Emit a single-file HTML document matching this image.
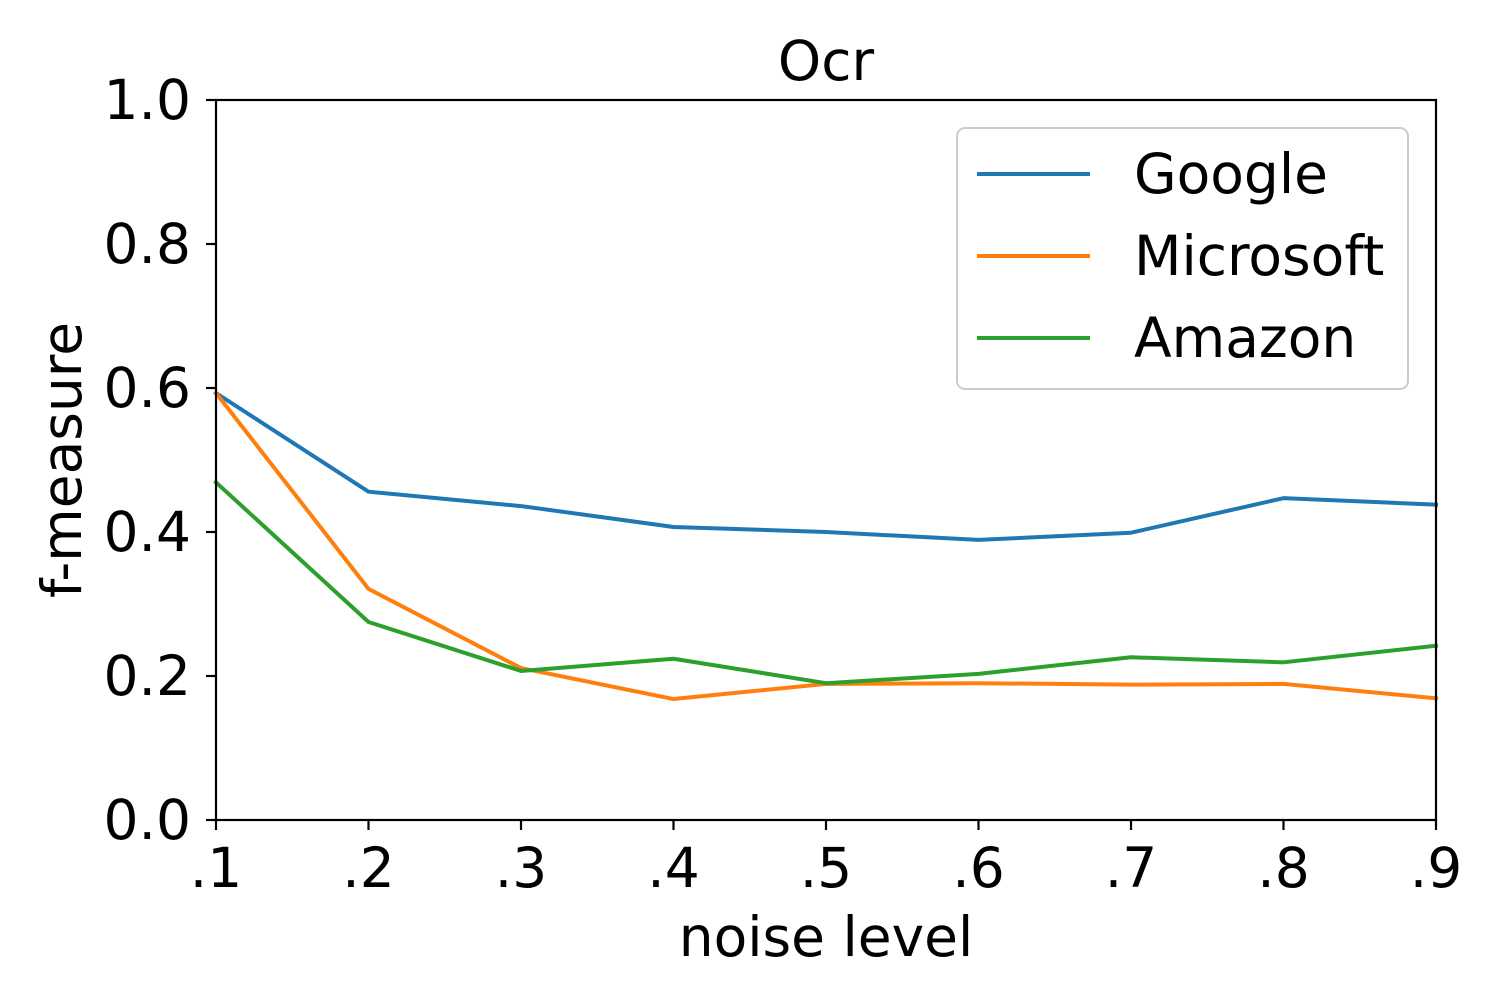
<!DOCTYPE html>
<html><head><meta charset="utf-8"><style>
html,body{margin:0;padding:0;background:#fff;}
svg{display:block;font-family:"DejaVu Sans","Liberation Sans",sans-serif;}
</style></head><body>
<svg id="chart" width="1500" height="1000" viewBox="0 0 1500 1000">
<rect width="1500" height="1000" fill="#fff"/>
<text x="826" y="80" font-size="55" text-anchor="middle">Ocr</text>
<g id="series"></g>
<rect x="216" y="100" width="1220" height="720" fill="none" stroke="#000" stroke-width="2.2"/>
<g id="xticks"></g><g id="yticks"></g>
<text x="826" y="956" font-size="55" text-anchor="middle">noise level</text>
<text transform="translate(81,460) rotate(-90)" font-size="55" text-anchor="middle">f-measure</text>
<g>
<rect x="957" y="128" width="451" height="261" rx="8" fill="#fff" fill-opacity="0.8" stroke="#ccc" stroke-width="2"/>
<g id="legend-items"></g>
</g>
</svg>
<script>
const categories = [".1",".2",".3",".4",".5",".6",".7",".8",".9"];
const googleValues = [0.593,0.456,0.436,0.407,0.400,0.389,0.399,0.447,0.438];
const microsoftValues = [0.593,0.321,0.211,0.168,0.189,0.190,0.188,0.189,0.169];
const amazonValues = [0.469,0.275,0.207,0.224,0.190,0.203,0.226,0.219,0.242];
const yTickLabels = ["0.0","0.2","0.4","0.6","0.8","1.0"];
const seriesNames = ["Google","Microsoft","Amazon"];

const NS="http://www.w3.org/2000/svg";
const x0=216,x1=1436,y0=820,y1=100;
function xScale(i){return x0+(x1-x0)*i/(categories.length-1);}
function yScale(v){return y0-(y0-y1)*v;}
function mk(tag,attrs,parent){const e=document.createElementNS(NS,tag);for(const k in attrs)e.setAttribute(k,attrs[k]);parent.appendChild(e);return e;}

const xt=document.getElementById('xticks');
categories.forEach((c,i)=>{
  const x=xScale(i);
  const l=mk('line',{x1:x,x2:x,y1:820,y2:830,stroke:'#000','stroke-width':2.2},xt);
  
  
  const t=mk('text',{x:x,y:887,'font-size':55,'text-anchor':'middle'},xt);
  t.textContent=c;
  
  
});
const yt=document.getElementById('yticks');
yTickLabels.forEach(s=>{
  const y=yScale(parseFloat(s));
  const l=mk('line',{x1:206,x2:216,y1:y,y2:y,stroke:'#000','stroke-width':2.2},yt);
  
  
  const t=mk('text',{x:191,y:y+19,'font-size':55,'text-anchor':'end'},yt);
  t.textContent=s;
  
  
});
const colors=["#1f77b4","#ff7f0e","#2ca02c"];
const allSeries=[googleValues,microsoftValues,amazonValues];
const sg=document.getElementById('series');
allSeries.forEach((vals,k)=>{
  const pts=vals.map((v,i)=>xScale(i)+','+yScale(v)).join(' ');
  const p=mk('polyline',{points:pts,fill:'none',stroke:colors[k],'stroke-width':4,'stroke-linejoin':'round','stroke-linecap':'square'},sg);
  
  
});
const lg=document.getElementById('legend-items');
seriesNames.forEach((n,k)=>{
  const y=174+82*k;
  const g=mk('g',{},lg);
  
  
  mk('line',{x1:977,x2:1090,y1:y,y2:y,stroke:colors[k],'stroke-width':4},g);
  const t=mk('text',{x:1134,y:y+19,'font-size':55},g);
  t.textContent=n;
});
</script>
</body></html>
